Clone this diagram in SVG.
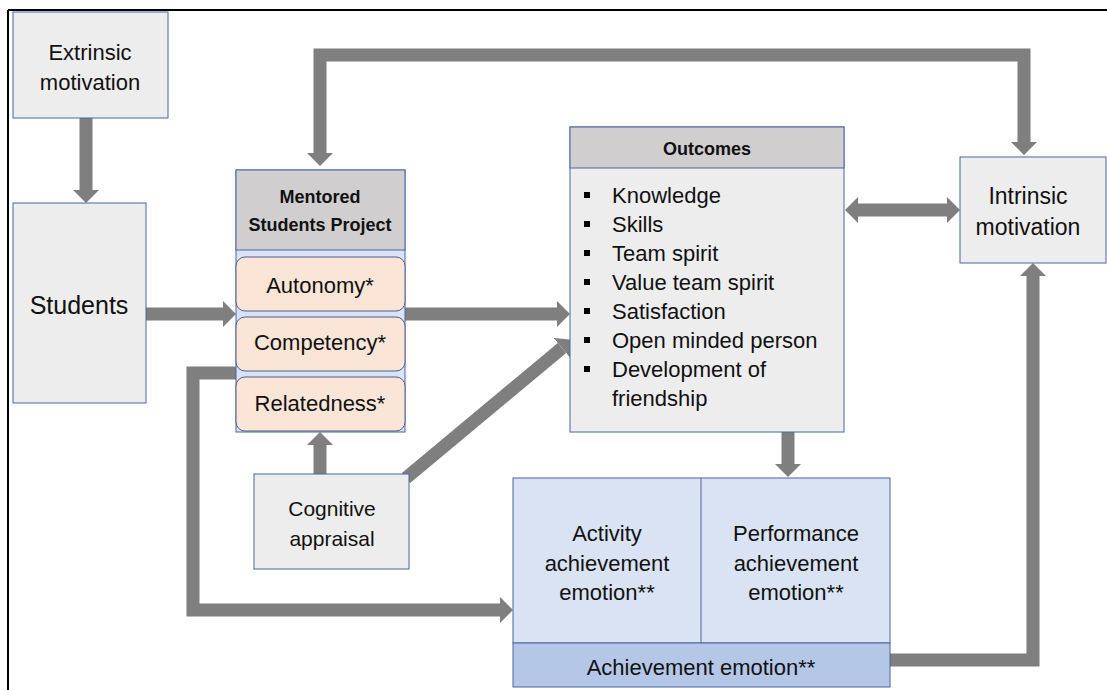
<svg xmlns="http://www.w3.org/2000/svg" width="1107" height="690" viewBox="0 0 1107 690">
<style>
text{font-family:"Liberation Sans",Arial,sans-serif;fill:#111;}
.c{text-anchor:middle;}
.box{fill:#ededed;stroke:#4a65a0;stroke-width:1;}
.hdr{fill:#d0cece;stroke:#4a65a0;stroke-width:1;}
.pill{fill:#fbe5d6;stroke:#4a5f8f;stroke-width:1;}
.emo{fill:#dae3f3;stroke:#4a65a0;stroke-width:1;}
.bar{fill:#b4c7e7;stroke:#4a65a0;stroke-width:1;}
.conn{fill:none;stroke:#7f7f7f;stroke-width:13;stroke-linejoin:miter;}
.t22{font-size:22px;}
.b18{font-size:18px;font-weight:bold;}
</style>
<defs>
<marker id="ah" viewBox="0 0 13 26" markerWidth="13" markerHeight="26" refX="0" refY="13" orient="auto-start-reverse" markerUnits="userSpaceOnUse">
<path d="M0,0 L13,13 L0,26 z" fill="#7f7f7f"/>
</marker>
</defs>
<g id="frame">
<line x1="8" y1="10" x2="1107" y2="10" stroke="#000" stroke-width="2"/>
<line x1="8" y1="10" x2="8" y2="690" stroke="#000" stroke-width="2"/>
</g>
<g id="connectors">
<path class="conn" d="M86,118 L86,190" marker-end="url(#ah)"/>
<path class="conn" d="M146,314 L223,314" marker-end="url(#ah)"/>
<path class="conn" d="M405,314 L557,314" marker-end="url(#ah)"/>
<path class="conn" d="M320,153 L320,55 L1024,55 L1024,142" marker-start="url(#ah)" marker-end="url(#ah)"/>
<path class="conn" d="M858,210 L947,210" marker-start="url(#ah)" marker-end="url(#ah)"/>
<path class="conn" d="M320,474 L320,445" marker-end="url(#ah)"/>
<path class="conn" d="M406,478 L562,348" marker-end="url(#ah)"/>
<path class="conn" d="M236,373 L193,373 L193,610 L500,610" marker-end="url(#ah)"/>
<path class="conn" d="M788,432 L788,464" marker-end="url(#ah)"/>
<path class="conn" d="M890,660 L1033,660 L1033,276" marker-end="url(#ah)"/>
</g>
<g id="extrinsic">
<rect class="box" x="13" y="12" width="155" height="106"/>
<text class="c t22" x="90" y="60" font-size="23">Extrinsic</text>
<text class="c t22" x="90" y="90" font-size="23">motivation</text>
</g>
<g id="students">
<rect class="box" x="13" y="203" width="133" height="200"/>
<text class="c" x="79" y="314" font-size="25">Students</text>
</g>
<g id="mentored">
<rect x="236" y="170" width="169" height="262" fill="#dae3f3" stroke="#4a65a0" stroke-width="1"/>
<rect class="hdr" x="236" y="170" width="169" height="80"/>
<text class="c b18" x="320" y="203">Mentored</text>
<text class="c b18" x="320" y="231">Students Project</text>
<rect class="pill" x="236" y="257" width="169" height="54" rx="9"/>
<text class="c t22" x="320" y="293">Autonomy*</text>
<rect class="pill" x="236" y="317" width="169" height="54" rx="9"/>
<text class="c t22" x="320" y="350">Competency*</text>
<rect class="pill" x="236" y="377" width="169" height="54" rx="9"/>
<text class="c t22" x="320" y="411">Relatedness*</text>
</g>
<g id="outcomes">
<rect class="box" x="570" y="127" width="274" height="305"/>
<rect class="hdr" x="570" y="127" width="274" height="41"/>
<text class="c b18" x="707" y="155">Outcomes</text>
<g fill="#000">
<rect x="584" y="192" width="6" height="6"/>
<rect x="584" y="221" width="6" height="6"/>
<rect x="584" y="250" width="6" height="6"/>
<rect x="584" y="279" width="6" height="6"/>
<rect x="584" y="308" width="6" height="6"/>
<rect x="584" y="337" width="6" height="6"/>
<rect x="584" y="366" width="6" height="6"/>
</g>
<text class="t22" x="612" y="203">Knowledge</text>
<text class="t22" x="612" y="232">Skills</text>
<text class="t22" x="612" y="261">Team spirit</text>
<text class="t22" x="612" y="290">Value team spirit</text>
<text class="t22" x="612" y="319">Satisfaction</text>
<text class="t22" x="612" y="348">Open minded person</text>
<text class="t22" x="612" y="377">Development of</text>
<text class="t22" x="612" y="406">friendship</text>
</g>
<g id="intrinsic">
<rect class="box" x="960" y="157" width="146" height="106"/>
<text class="c" x="1028" y="204" font-size="23">Intrinsic</text>
<text class="c" x="1028" y="235" font-size="23">motivation</text>
</g>
<g id="cognitive">
<rect class="box" x="254" y="474" width="155" height="95"/>
<text class="c" x="332" y="516" font-size="21">Cognitive</text>
<text class="c" x="332" y="546" font-size="21">appraisal</text>
</g>
<g id="emotion">
<rect class="emo" x="513" y="478" width="377" height="165"/>
<line x1="701" y1="478" x2="701" y2="643" stroke="#4a65a0" stroke-width="1"/>
<text class="c t22" x="607" y="541">Activity</text>
<text class="c t22" x="607" y="571">achievement</text>
<text class="c t22" x="607" y="600">emotion**</text>
<text class="c t22" x="796" y="541">Performance</text>
<text class="c t22" x="796" y="571">achievement</text>
<text class="c t22" x="796" y="600">emotion**</text>
<rect class="bar" x="513" y="643" width="377" height="44"/>
<text class="c t22" x="701" y="675">Achievement emotion**</text>
</g>
</svg>
